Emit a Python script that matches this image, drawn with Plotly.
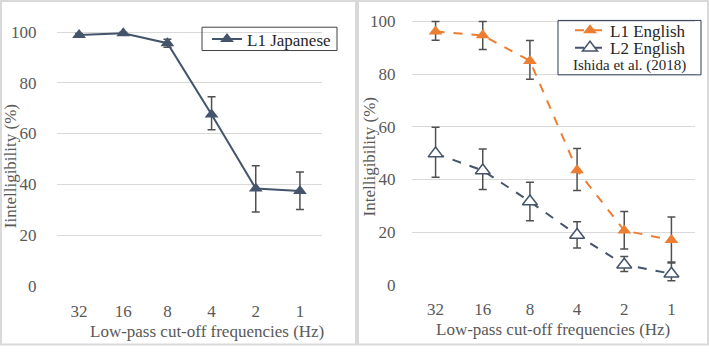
import plotly.graph_objects as go

W, H = 709, 356

categories = ["32", "16", "8", "4", "2", "1"]

l1_japanese = [98.8, 99.5, 95.6, 67.5, 38.3, 37.3]
l1_japanese_err_plus = [0.6, 0.4, 1.6, 7.0, 9.0, 7.5]
l1_japanese_err_minus = [0.6, 0.4, 1.6, 6.0, 9.2, 7.2]

l1_english = [96.2, 94.7, 85.0, 43.5, 20.6, 17.0]
l1_english_err_plus = [3.8, 5.3, 7.7, 8.2, 7.2, 8.7]
l1_english_err_minus = [3.4, 5.4, 7.0, 7.7, 7.0, 8.7]

l2_english = [49.8, 43.4, 31.6, 18.9, 7.6, 4.2]
l2_english_err_plus = [10.0, 8.1, 7.3, 5.0, 3.1, 4.4]
l2_english_err_minus = [9.0, 7.2, 7.3, 4.9, 2.6, 2.7]

FONT = "Liberation Serif"
GREY = "#595959"
NAVY = "#44546A"
ORANGE = "#ED7D31"
ERR = "#505050"
CLEAR = "rgba(0,0,0,0)"

def px(x):
    return x / W

def py(y):
    return 1 - y / H

fig = go.Figure()

fig.add_trace(go.Scatter(
    x=categories, y=l1_japanese, name="L1 Japanese",
    mode="lines+markers", xaxis="x", yaxis="y",
    line=dict(color=NAVY, width=2),
    marker=dict(symbol="triangle-up", size=12, color=NAVY),
    error_y=dict(type="data", array=l1_japanese_err_plus, arrayminus=l1_japanese_err_minus,
                 color=ERR, thickness=1.5, width=4),
    cliponaxis=False, legend="legend",
))

fig.add_trace(go.Scatter(
    x=categories, y=l1_english, name="L1 English",
    mode="lines+markers", xaxis="x2", yaxis="y2",
    line=dict(color=ORANGE, width=2, dash="dash"),
    marker=dict(symbol="triangle-up", size=12, color=ORANGE),
    error_y=dict(type="data", array=l1_english_err_plus, arrayminus=l1_english_err_minus,
                 color=ERR, thickness=1.5, width=4),
    cliponaxis=False, legend="legend2",
))

fig.add_trace(go.Scatter(
    x=categories, y=l2_english, name="L2 English",
    mode="lines+markers", xaxis="x2", yaxis="y2",
    line=dict(color=NAVY, width=2, dash="dash"),
    marker=dict(symbol="triangle-up", size=13, color="white", line=dict(color=NAVY, width=1.5)),
    error_y=dict(type="data", array=l2_english_err_plus, arrayminus=l2_english_err_minus,
                 color=ERR, thickness=1.5, width=4),
    cliponaxis=False, legend="legend3",
))

common_x = dict(type="category", range=[-0.5, 5.5], showgrid=False, showline=False,
                ticks="outside", tickcolor=CLEAR, tickfont=dict(family=FONT, size=17, color=GREY))
common_y = dict(range=[0, 105], tickvals=[0, 20, 40, 60, 80, 100],
                showgrid=True, gridcolor="#D9D9D9", gridwidth=1, zeroline=False,
                showline=False, ticks="outside", tickcolor=CLEAR,
                tickfont=dict(family=FONT, size=17, color=GREY))

legfont = dict(family=FONT, size=17, color="#262626")
fig.update_layout(
    width=W, height=H, margin=dict(l=0, r=0, t=0, b=0),
    paper_bgcolor="white", plot_bgcolor="white",
    font=dict(family=FONT, color=GREY),
    xaxis=dict(domain=[px(57), px(322)], anchor="y", ticklen=10, **common_x),
    yaxis=dict(domain=[py(294), py(19.95)], anchor="x", ticklen=16, **common_y),
    xaxis2=dict(domain=[px(412), px(695)], anchor="y2", ticklen=9, **common_x),
    yaxis2=dict(domain=[py(293), py(8.45)], anchor="x2", ticklen=12, **common_y),
    legend=dict(x=px(207), y=py(22), xanchor="left", yanchor="top",
                bgcolor=CLEAR, borderwidth=0, font=legfont),
    legend2=dict(x=px(570), y=py(13), xanchor="left", yanchor="top",
                 bgcolor=CLEAR, borderwidth=0, font=legfont),
    legend3=dict(x=px(570), y=py(31), xanchor="left", yanchor="top",
                 bgcolor=CLEAR, borderwidth=0, font=legfont),
    showlegend=True,
)

shapes = [
    dict(type="rect", xref="paper", yref="paper", x0=px(1), x1=px(356), y0=py(354.5), y1=py(1),
         line=dict(color="#D9D9D9", width=2)),
    dict(type="rect", xref="paper", yref="paper", x0=px(358), x1=px(708), y0=py(354.5), y1=py(1),
         line=dict(color="#D9D9D9", width=2)),
    dict(type="rect", xref="paper", yref="paper", x0=px(202), x1=px(337), y0=py(52), y1=py(28),
         line=dict(color="#404040", width=1)),
    dict(type="rect", xref="paper", yref="paper", x0=px(558), x1=px(701), y0=py(77), y1=py(21),
         line=dict(color="#2F3D55", width=1)),
]
fig.update_layout(shapes=shapes)

annotations = [
    dict(text="Low-pass cut-off frequencies (Hz)", x=px(207), y=py(341), xref="paper", yref="paper",
         showarrow=False, font=dict(family=FONT, size=17, color=GREY), xanchor="center", yanchor="middle"),
    dict(text="Low-pass cut-off frequencies (Hz)", x=px(553), y=py(339), xref="paper", yref="paper",
         showarrow=False, font=dict(family=FONT, size=17, color=GREY), xanchor="center", yanchor="middle"),
    dict(text="Iintelligibility (%)", x=px(10), y=py(171), xref="paper", yref="paper", textangle=-90,
         showarrow=False, font=dict(family=FONT, size=17, color=GREY), xanchor="center", yanchor="middle"),
    dict(text="Intelligibility (%)", x=px(369), y=py(162), xref="paper", yref="paper", textangle=-90,
         showarrow=False, font=dict(family=FONT, size=17, color=GREY), xanchor="center", yanchor="middle"),
    dict(text="Ishida et al. (2018)", x=px(629.5), y=py(67), xref="paper", yref="paper",
         showarrow=False, font=dict(family=FONT, size=15, color="#262626"), xanchor="center", yanchor="middle"),
]
fig.update_layout(annotations=annotations)

fig.write_html("out.html")
